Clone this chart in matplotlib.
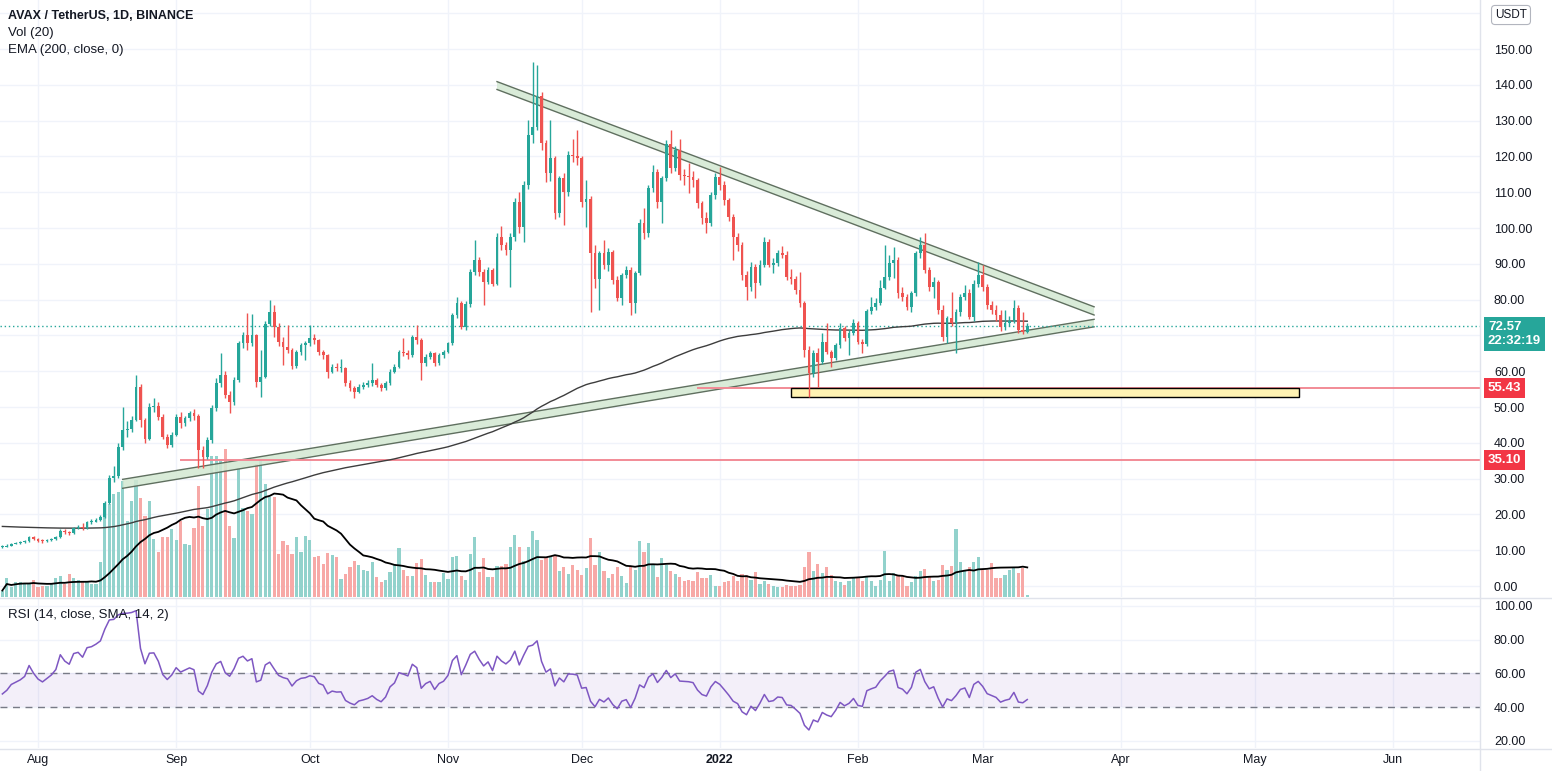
import numpy as np
import pandas as pd
import matplotlib.pyplot as plt
from matplotlib import transforms
from matplotlib.lines import Line2D
from matplotlib.patches import Polygon, Rectangle

plt.rcParams['font.family'] = ['Liberation Sans', 'DejaVu Sans']

# ---- data (daily candles from 2021-07-24) ----
start_date = '2021-07-24'
first_open = 10.8

closes = [11.0, 11.3, 11.8, 12.0, 12.2, 12.5, 13.6, 13.1,
          12.7, 12.5, 12.8, 13.1, 13.6, 15.4, 15.0, 14.8, 16.3, 16.5,
          16.2, 17.8, 18.0, 18.5, 19.2, 23.1, 30.1, 30.8, 38.9, 43.6,
          43.9, 46.4, 55.7, 46.4, 41.2, 50.1, 50.4, 47.3, 41.7, 39.4,
          42.2, 47.3, 45.4, 46.8, 48.2, 47.5, 38.0, 36.1, 40.8, 49.6,
          56.6, 58.9, 53.4, 51.5, 57.5, 67.8, 70.1, 67.8, 70.1, 57.1,
          58.5, 73.3, 76.6, 72.4, 68.2, 66.8, 66.0, 61.4, 65.4, 67.3,
          67.8, 69.2, 68.7, 65.4, 64.5, 59.9, 61.3, 60.8, 60.9, 56.6,
          55.2, 54.3, 55.7, 56.1, 56.6, 57.5, 56.1, 55.2, 56.6, 59.9,
          61.3, 65.4, 65.0, 64.5, 69.6, 68.7, 62.2, 64.1, 65.0, 62.2,
          64.5, 65.4, 67.8, 75.7, 79.0, 72.4, 78.7, 87.8, 91.1, 87.8,
          85.0, 88.3, 84.5, 97.6, 95.3, 93.9, 97.6, 107.4, 100.4, 112.0,
          126.0, 128.3, 137.0, 123.7, 115.3, 119.5, 104.1, 113.9, 110.1, 120.4,
          120.2, 119.5, 107.3, 108.0, 92.9, 85.9, 92.9, 89.7, 93.4, 85.5,
          80.4, 86.9, 88.3, 79.0, 87.3, 101.3, 98.5, 111.1, 115.7, 107.3,
          113.9, 123.6, 116.7, 121.8, 114.8, 114.5, 114.2, 113.4, 106.9, 102.7,
          101.3, 109.2, 114.3, 112.0, 107.8, 103.2, 97.6, 95.3, 86.9, 83.6,
          89.2, 84.7, 89.7, 96.2, 89.7, 90.3, 92.9, 92.5, 86.4, 85.9,
          82.7, 79.0, 65.9, 59.4, 65.0, 62.7, 68.2, 65.5, 63.8, 67.3,
          72.0, 69.2, 70.6, 73.4, 68.2, 67.5, 76.7, 78.0, 79.0, 83.2,
          86.4, 90.1, 91.1, 81.8, 80.8, 78.0, 81.8, 92.9, 95.3, 88.3,
          83.6, 85.0, 77.1, 69.6, 74.8, 73.4, 76.6, 80.8, 81.8, 75.2,
          84.5, 86.9, 83.6, 78.5, 77.1, 75.8, 72.4, 73.4, 74.0, 77.6,
          71.5, 71.0, 72.57]

highs = [11.4, 11.6, 12.1, 12.4, 12.6, 12.9, 13.9, 13.9,
         13.4, 13.0, 13.1, 13.4, 13.9, 15.8, 15.9, 15.5, 16.6, 17.0,
         17.5, 18.2, 18.6, 19.0, 19.8, 23.8, 31.0, 33.5, 40.0, 50.1,
         46.0, 47.5, 59.0, 56.5, 47.0, 51.0, 52.5, 51.5, 48.0, 42.5,
         43.0, 48.0, 48.5, 47.5, 49.0, 49.5, 48.0, 39.0, 41.5, 50.5,
         58.0, 65.0, 60.0, 54.5, 58.5, 68.5, 71.0, 76.2, 76.0, 70.5,
         65.9, 74.0, 79.9, 78.5, 73.5, 69.5, 72.9, 66.5, 66.0, 68.0,
         68.5, 72.9, 70.5, 69.0, 66.0, 64.8, 62.0, 62.2, 63.5, 61.2,
         57.5, 55.8, 56.3, 57.0, 57.6, 62.2, 58.2, 56.8, 57.2, 60.5,
         62.0, 66.0, 69.2, 66.0, 70.2, 72.9, 69.2, 64.8, 65.6, 65.5,
         65.0, 66.0, 68.3, 76.3, 80.8, 79.5, 79.5, 88.5, 96.6, 91.8,
         88.5, 89.0, 88.8, 98.5, 100.5, 96.0, 98.5, 108.5, 110.0, 113.0,
         130.2, 146.5, 145.5, 138.0, 124.5, 130.2, 120.0, 114.5, 115.5, 121.5,
         125.0, 127.4, 120.2, 113.5, 109.0, 95.3, 93.5, 96.6, 94.5, 94.0,
         86.5, 87.5, 89.5, 89.0, 88.0, 102.5, 105.5, 112.0, 117.5, 116.5,
         114.5, 124.5, 127.4, 123.0, 124.8, 116.5, 118.1, 116.0, 114.0, 107.5,
         104.5, 110.0, 115.5, 117.1, 113.0, 108.5, 104.0, 98.5, 96.0, 88.0,
         90.5, 90.0, 91.0, 97.5, 96.8, 91.5, 93.8, 95.0, 93.5, 88.5,
         86.5, 87.8, 79.5, 67.0, 66.0, 66.5, 70.6, 73.4, 66.0, 68.0,
         73.4, 72.5, 71.5, 74.5, 74.0, 69.0, 77.5, 80.8, 80.5, 85.5,
         95.3, 92.5, 94.8, 92.0, 83.6, 81.5, 82.5, 93.5, 97.6, 98.5,
         89.0, 86.4, 85.5, 78.5, 75.5, 82.2, 77.5, 81.5, 84.1, 83.0,
         85.5, 90.6, 89.7, 84.5, 79.5, 78.5, 77.0, 77.0, 75.5, 79.9,
         78.5, 76.5, 73.5]

lows = [10.6, 10.8, 11.2, 11.6, 11.8, 12.0, 12.4, 12.8,
        12.4, 12.1, 12.3, 12.6, 12.9, 13.5, 14.6, 14.3, 14.6, 16.0,
        15.6, 16.0, 17.2, 17.8, 18.2, 19.0, 22.8, 29.0, 30.2, 38.0,
        41.5, 43.0, 46.0, 44.5, 40.0, 40.8, 48.5, 46.5, 41.0, 38.5,
        38.8, 41.8, 44.0, 44.8, 46.2, 46.5, 33.0, 32.9, 35.5, 40.0,
        49.0, 55.5, 52.5, 48.2, 50.6, 57.0, 66.5, 66.0, 67.0, 55.5,
        52.9, 58.0, 72.5, 69.6, 67.0, 61.7, 65.0, 60.5, 61.0, 64.5,
        63.1, 67.0, 67.5, 64.5, 63.5, 58.0, 59.5, 60.0, 59.8, 56.0,
        54.5, 52.4, 53.8, 55.0, 55.5, 56.0, 55.5, 54.5, 54.8, 56.2,
        59.5, 61.0, 64.2, 63.5, 64.0, 67.5, 57.5, 61.5, 63.5, 61.5,
        61.8, 63.8, 65.0, 67.3, 75.0, 71.8, 71.5, 78.0, 87.0, 86.5,
        78.5, 84.3, 83.8, 84.0, 94.0, 92.5, 83.6, 96.5, 98.5, 96.2,
        111.0, 123.7, 127.5, 121.8, 112.9, 113.0, 102.5, 103.0, 100.8, 109.0,
        118.5, 117.5, 106.0, 100.4, 76.6, 83.2, 77.1, 88.5, 88.0, 84.5,
        79.5, 78.5, 86.0, 75.7, 76.2, 87.0, 97.0, 97.5, 110.0, 105.5,
        101.3, 113.0, 115.5, 116.0, 113.5, 112.0, 109.7, 111.5, 105.5, 101.0,
        98.5, 100.5, 108.0, 110.5, 106.5, 102.0, 91.1, 93.5, 85.5, 79.9,
        82.5, 80.4, 84.0, 89.0, 89.0, 87.5, 89.5, 91.5, 85.5, 84.5,
        81.5, 78.0, 64.0, 52.9, 58.5, 55.7, 62.0, 64.8, 61.3, 63.0,
        66.5, 68.5, 64.5, 70.0, 67.5, 65.0, 67.0, 76.0, 77.0, 78.5,
        83.0, 85.5, 86.0, 80.5, 79.5, 77.0, 76.6, 81.0, 91.5, 87.5,
        82.5, 80.4, 76.0, 68.5, 67.8, 72.5, 65.0, 75.5, 80.0, 74.5,
        74.0, 83.5, 82.5, 77.5, 76.0, 74.0, 71.2, 71.5, 72.5, 73.5,
        70.8, 70.5, 70.8]

# volume in millions of AVAX
volumes = [1.3, 3.9, 2.0, 3.0, 3.1, 2.9, 2.7, 3.5,
           2.0, 2.2, 2.3, 2.7, 3.9, 4.3, 2.7, 4.7, 3.9, 3.5,
           3.0, 3.3, 2.7, 2.7, 7.0, 16.3, 18.7, 20.7, 21.0, 23.3,
           15.3, 19.3, 23.5, 19.9, 16.3, 19.3, 11.7, 9.1, 12.1, 12.1,
           13.7, 11.5, 15.3, 10.7, 10.5, 13.9, 22.3, 14.3, 17.7, 28.3,
           28.3, 27.7, 29.7, 14.3, 11.9, 25.9, 17.9, 17.3, 16.7, 26.7,
           27.7, 22.7, 20.0, 20.0, 8.7, 11.3, 10.5, 8.7, 12.0, 9.1,
           12.3, 11.5, 8.0, 8.3, 6.7, 8.9, 8.5, 8.0, 3.7, 4.7,
           6.1, 7.3, 6.5, 5.5, 5.3, 7.1, 4.0, 3.0, 3.5, 5.0,
           6.7, 9.8, 5.5, 4.2, 4.2, 6.9, 7.7, 4.5, 3.0, 3.0,
           3.0, 4.8, 3.7, 8.1, 8.3, 4.2, 3.5, 8.7, 12.0, 5.0,
           7.8, 4.0, 4.0, 6.3, 6.3, 6.7, 10.0, 12.5, 10.1, 7.3,
           10.0, 13.3, 11.5, 7.5, 8.0, 8.1, 8.3, 5.2, 6.1, 4.7,
           6.5, 5.5, 4.5, 5.9, 11.9, 6.5, 9.1, 5.3, 3.8, 4.7,
           6.0, 4.3, 2.9, 6.1, 5.5, 11.3, 9.0, 10.9, 6.5, 4.0,
           7.9, 6.5, 5.3, 4.7, 4.0, 3.3, 3.5, 3.3, 5.1, 3.8,
           3.8, 4.5, 2.3, 2.3, 3.0, 3.3, 4.3, 3.2, 4.7, 4.5,
           3.5, 5.1, 2.7, 3.3, 2.7, 2.2, 2.0, 2.0, 2.5, 2.2,
           2.3, 2.5, 6.1, 9.1, 5.3, 6.7, 4.9, 6.1, 4.5, 3.3,
           3.1, 2.5, 3.3, 3.9, 4.0, 3.3, 4.0, 3.3, 2.3, 3.5,
           9.3, 3.3, 4.8, 4.3, 4.3, 2.3, 3.0, 4.2, 5.3, 5.7,
           4.3, 3.2, 3.5, 6.5, 5.5, 6.3, 13.7, 7.0, 5.5, 6.1,
           7.0, 8.1, 5.7, 5.5, 6.9, 3.8, 3.8, 4.5, 5.5, 5.8,
           4.8, 5.9, 0.5]

ema_seed = 16.7              # EMA(200) level at the left edge of the chart
rsi_seed = (0.26, 0.30)      # average gain / loss before the first bar (RSI ~46 at the edge)
last_price = 72.57
countdown = '22:32:19'

# drawings: (date, price)
upper_top = [('2021-11-12', 140.9), ('2022-03-26', 78.0)]
upper_bot = [('2021-11-12', 138.7), ('2022-03-26', 75.7)]
lower_top = [('2021-08-20', 29.8), ('2022-03-26', 74.5)]
lower_bot = [('2021-08-20', 27.3), ('2022-03-26', 72.4)]
hlines = [('2021-12-27', 55.43), ('2021-09-02', 35.10)]
zone = ('2022-01-17', '2022-05-11', 52.8, 55.43)

month_ticks = ['2021-08-01', '2021-09-01', '2021-10-01', '2021-11-01', '2021-12-01',
               '2022-01-01', '2022-02-01', '2022-03-01', '2022-04-01', '2022-05-01',
               '2022-06-01']
month_labels = ['Aug', 'Sep', 'Oct', 'Nov', 'Dec', '2022', 'Feb', 'Mar', 'Apr', 'May', 'Jun']
price_ticks = [0, 10, 20, 30, 40, 50, 60, 80, 90, 100, 110, 120, 130, 140, 150]
rsi_ticks = [20, 40, 60, 80, 100]

# ---- derived series ----
origin = pd.Timestamp('2021-08-01')
def dnum(s):
    return (pd.Timestamp(s) - origin).days

closes = np.array(closes)
highs = np.array(highs)
lows = np.array(lows)
volumes = np.array(volumes)
dates = pd.date_range(start_date, periods=len(closes), freq='D')
x = np.array((dates - origin).days, dtype=float)
opens = np.r_[first_open, closes[:-1]]
up = closes >= opens

ema = []
e = ema_seed
for c in closes:
    e += 2 / 201 * (c - e)
    ema.append(e)

vol_ma = pd.Series(volumes).rolling(20, min_periods=1).mean()

# Wilder RSI(14)
rsi = []
ag, al = rsi_seed
for o, c in zip(opens, closes):
    ch = c - o
    ag = (ag * 13 + max(ch, 0)) / 14
    al = (al * 13 + max(-ch, 0)) / 14
    rsi.append(100 - 100 / (1 + ag / al))

# ---- figure ----
W, H = 1552, 771
PR = 1480  # right edge of the plotting area in px
fig = plt.figure(figsize=(W / 100, H / 100), dpi=100)

def rect(l, t, r, b):
    return [l / W, 1 - b / H, (r - l) / W, (b - t) / H]

UP, DOWN = '#26a69a', '#ef5350'
GRID = '#f0f3fa'
TXT = '#131722'

ax_vol = fig.add_axes(rect(0, 0, PR, 597))
ax = fig.add_axes(rect(0, 0, PR, 597), sharex=ax_vol)
ax.patch.set_alpha(0)
ax_rsi = fig.add_axes(rect(0, 599, PR, 748), sharex=ax_vol)

xmin, xmax = -8.53, 323.6
ax.set_xlim(xmin, xmax)
ax.set_ylim(-3.07, 163.7)
ax_vol.set_ylim(0, 119.4)
ax_rsi.set_ylim(15.85, 104.1)

mt = [dnum(m) for m in month_ticks]
mix = transforms.blended_transform_factory(ax_vol.transAxes, ax.transData)
for p in range(0, 170, 10):
    ax_vol.plot([0, 1], [p, p], transform=mix, color=GRID, lw=1, zorder=0)
for m in mt:
    ax_vol.axvline(m, color=GRID, lw=1, zorder=0)
    ax_rsi.axvline(m, color=GRID, lw=1, zorder=0)
for r in rsi_ticks:
    ax_rsi.axhline(r, color=GRID, lw=1, zorder=0)

# volume
vol_colors = np.where(up, '#92d2cc', '#f7a9a7')
ax_vol.bar(x, volumes, width=0.72, color=vol_colors, zorder=2)
ax_vol.plot(x, vol_ma, color='black', lw=1.3, zorder=3)

# drawings
def band(top, bot):
    pts = [(dnum(d), p) for d, p in top] + [(dnum(d), p) for d, p in bot[::-1]]
    ax.add_patch(Polygon(pts, closed=True, fc='#d3e8d2', ec='none', alpha=0.85, zorder=1))
    for line in (top, bot):
        ax.plot([dnum(d) for d, _ in line], [p for _, p in line], color='#5f6f5f', lw=1, zorder=1.5)

band(upper_top, upper_bot)
band(lower_top, lower_bot)

for d, p in hlines:
    ax.plot([dnum(d), xmax], [p, p], color='#f28b96', lw=1.4, zorder=1.5)

z0, z1, zl, zh = zone
ax.add_patch(Rectangle((dnum(z0), zl), dnum(z1) - dnum(z0), zh - zl,
                       fc='#fff3b3', ec='black', lw=1, zorder=1.6))

ax.axhline(last_price, color=UP, lw=1, ls=(0, (1, 2)), zorder=1.5)

# EMA
ax.plot(x, ema, color='#3d3d3d', lw=1.0, zorder=2)

# candles
colors = np.where(up, UP, DOWN)
ax.vlines(x, lows, highs, colors=colors, lw=1, zorder=3)
body_lo = np.minimum(opens, closes)
body_h = np.maximum(np.abs(closes - opens), 0.3)
ax.bar(x, body_h, bottom=body_lo, width=0.62, color=colors, zorder=4)

# RSI
ax_rsi.axhspan(40, 60, color='#7e57c2', alpha=0.09, lw=0, zorder=1)
for lvl in (60, 40):
    ax_rsi.axhline(lvl, color='#787b86', lw=1, ls=(0, (5, 4)), zorder=2)
ax_rsi.plot(x, rsi, color='#7e57c2', lw=1.1, zorder=3)

# axes cosmetics
for a in (ax_vol, ax, ax_rsi):
    for s in a.spines.values():
        s.set_visible(False)
ax_vol.set_yticks([])
ax_vol.tick_params(axis='x', bottom=False, labelbottom=False)
ax.tick_params(axis='x', bottom=False, labelbottom=False)

ax.yaxis.tick_right()
ax.set_yticks(price_ticks)
ax.set_yticklabels([f'{v:.2f}' for v in price_ticks])
ax.tick_params(axis='y', length=0, pad=10, labelsize=9, labelcolor=TXT)

ax_rsi.yaxis.tick_right()
ax_rsi.set_yticks(rsi_ticks)
ax_rsi.set_yticklabels([f'{v:.2f}' for v in rsi_ticks])
ax_rsi.tick_params(axis='y', length=0, pad=10, labelsize=9, labelcolor=TXT)

ax_rsi.set_xticks(mt)
ax_rsi.set_xticklabels(month_labels)
ax_rsi.tick_params(axis='x', length=0, pad=4, labelsize=9, labelcolor=TXT)
for lbl in ax_rsi.get_xticklabels():
    if lbl.get_text() == '2022':
        lbl.set_fontweight('bold')

# separators
line_c = '#e0e3eb'
fig.add_artist(Line2D([PR / W, PR / W], [0, 1], color=line_c, lw=1))
fig.add_artist(Line2D([0, 1], [1 - 598 / H, 1 - 598 / H], color=line_c, lw=1))
fig.add_artist(Line2D([0, 1], [1 - 748.5 / H, 1 - 748.5 / H], color=line_c, lw=1))

# price tags on the scale
def tag(a, price, text, color, dy=0, va='center'):
    tr = transforms.blended_transform_factory(a.transAxes, a.transData)
    a.annotate(text, xy=(1, price), xycoords=tr, xytext=(8, dy), textcoords='offset pixels',
               ha='left', va=va, color='white', fontsize=9.5, fontweight='bold',
               linespacing=1.2, annotation_clip=False, zorder=10,
               bbox=dict(boxstyle='square,pad=0.3', fc=color, ec='none'))

tag(ax, last_price, f'{last_price:.2f}\n{countdown}', UP, dy=5, va='top')
for _, p in hlines:
    tag(ax, p, f'{p:.2f}', '#f23645')

# header texts
fig.text(8 / W, 1 - 16 / H, 'AVAX / TetherUS, 1D, BINANCE', fontsize=9,
         fontweight='bold', color=TXT, va='center')
fig.text(8 / W, 1 - 33 / H, 'Vol (20)', fontsize=9.5, color=TXT, va='center')
fig.text(8 / W, 1 - 50 / H, 'EMA (200, close, 0)', fontsize=9.5, color=TXT, va='center')
fig.text(8 / W, 1 - 615 / H, 'RSI (14, close, SMA, 14, 2)', fontsize=9.5, color=TXT, va='center')
fig.text(1511 / W, 1 - 15 / H, 'USDT', fontsize=8.5, color=TXT, ha='center', va='center',
         bbox=dict(boxstyle='round,pad=0.3,rounding_size=0.3', fc='white', ec='#b2b5be', lw=0.8))

fig.savefig('out.png', dpi=100)
